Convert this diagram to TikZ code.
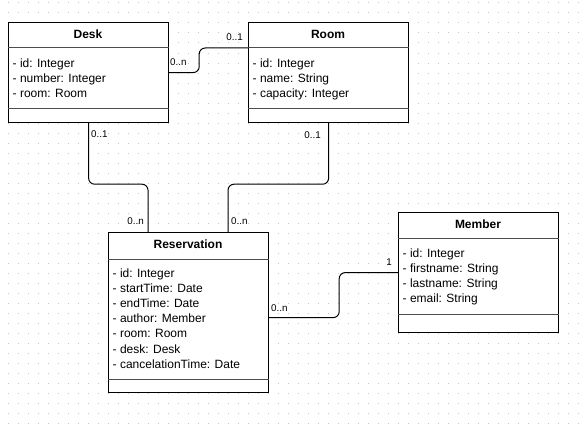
\documentclass[tikz,border=0pt]{standalone}
\usepackage{fontspec}
\setmainfont{Liberation Sans}
\begin{document}
\begin{tikzpicture}[x=1pt,y=-1pt,
  cls/.style={draw=black,line width=1.2pt,fill=white,inner sep=0pt,anchor=north west},
  sepline/.style={draw=black!70,line width=1pt},
  conn/.style={draw=black,line width=1pt,rounded corners=6pt},
  ttl/.style={font=\fontsize{12}{14}\selectfont\bfseries,anchor=base,inner sep=0pt},
  attr/.style={font=\fontsize{12}{14}\selectfont,anchor=base west,inner sep=0pt},
  mult/.style={font=\fontsize{9.8}{11}\selectfont,inner sep=0pt},
  dotc/.style={fill=black!22}]
\useasboundingbox (0,0) rectangle (585,428);
\fill[white] (0,0) rectangle (585,428);
\foreach \x in {8,18,...,578} \foreach \y in {3,13,...,423} \fill[dotc] (\x-0.5,\y-0.5) rectangle ++(1,1);

% class boxes
\node[cls,minimum width=160pt,minimum height=100pt] (desk) at (8,22) {};
\node[cls,minimum width=160pt,minimum height=100pt] (room) at (248,22) {};
\node[cls,minimum width=160pt,minimum height=160pt] (res) at (108,232) {};
\node[cls,minimum width=160pt,minimum height=120pt] (member) at (398,212) {};

% separators
\draw[sepline] ([yshift=-26pt]desk.north west) -- ([yshift=-26pt]desk.north east);
\draw[sepline] ([yshift=15pt]desk.south west) -- ([yshift=15pt]desk.south east);
\draw[sepline] ([yshift=-26pt]room.north west) -- ([yshift=-26pt]room.north east);
\draw[sepline] ([yshift=15pt]room.south west) -- ([yshift=15pt]room.south east);
\draw[sepline] ([yshift=-27pt]res.north west) -- ([yshift=-27pt]res.north east);
\draw[sepline] ([yshift=14pt]res.south west) -- ([yshift=14pt]res.south east);
\draw[sepline] ([yshift=-26pt]member.north west) -- ([yshift=-26pt]member.north east);
\draw[sepline] ([yshift=19pt]member.south west) -- ([yshift=19pt]member.south east);

% titles
\node[ttl] (desk-t) at (88,38.5) {Desk};
\node[ttl] (room-t) at (328,38.5) {Room};
\node[ttl] (res-t) at (188,248.5) {Reservation};
\node[ttl] (member-t) at (478,228.5) {Member};

% attributes
\foreach \t [count=\i] in {{- id: Integer},{- number: Integer},{- room: Room}}
  \node[attr] (desk-a\i) at (12.5,{67+15*(\i-1)}) {\t};
\foreach \t [count=\i] in {{- id: Integer},{- name: String},{- capacity: Integer}}
  \node[attr] (room-a\i) at (252.5,{67+15*(\i-1)}) {\t};
\foreach \t [count=\i] in {{- id: Integer},{- startTime: Date},{- endTime: Date},{- author: Member},{- room: Room},{- desk: Desk},{- cancelationTime: Date}}
  \node[attr] (res-a\i) at (112.5,{277.5+15.1*(\i-1)}) {\t};
\foreach \t [count=\i] in {{- id: Integer},{- firstname: String},{- lastname: String},{- email: String}}
  \node[attr] (member-a\i) at (402.5,{257+15.2*(\i-1)}) {\t};

% connector end points
\coordinate (roomL) at ([yshift=-26pt]room.north west);
\coordinate (resA) at ([xshift=40pt]res.north west);
\coordinate (resB) at ([xshift=120pt]res.north west);
\coordinate (resR) at ([yshift=-5pt]res.east);

% connectors
\draw[conn] (desk.east) -- ++(30,0) |- (roomL);
\draw[conn] (desk.south) -- ++(0,61) -| (resA);
\draw[conn] (room.south) -- ++(0,61) -| (resB);
\draw[conn] (resR) -- ++(70,0) |- (member.west);

% multiplicities
\node[mult,anchor=west] (m1) at (170,62) {0..n};
\node[mult,anchor=east] (m2) at (243,37) {0..1};
\node[mult,anchor=west] (m3) at (91,134.5) {0..1};
\node[mult,anchor=east] (m4) at (321,135) {0..1};
\node[mult,anchor=east] (m5) at (144,221.5) {0..n};
\node[mult,anchor=west] (m6) at (231,221.5) {0..n};
\node[mult,anchor=west] (m7) at (271,308) {0..n};
\node[mult,anchor=east] (m8) at (392,262) {1};
\end{tikzpicture}
\end{document}
